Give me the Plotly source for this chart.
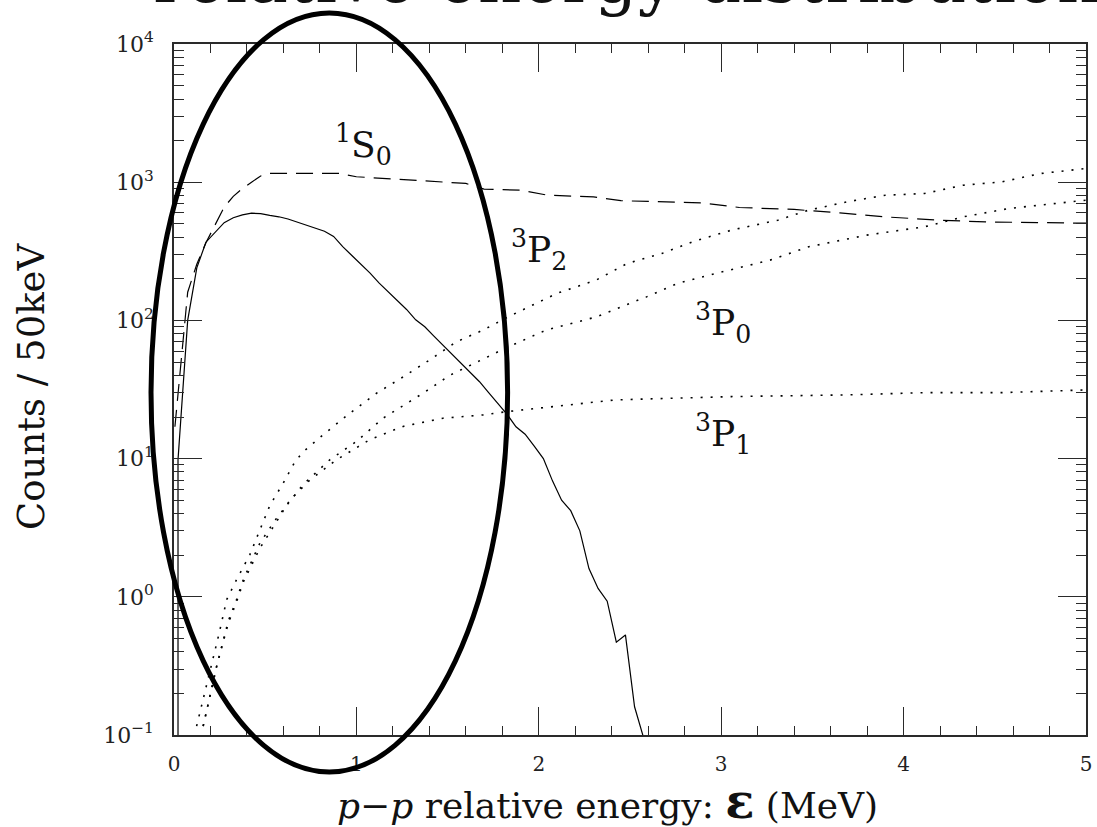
import plotly.graph_objects as go

# ---------------- data: counts per 50 keV bin vs p-p relative energy (MeV) ----------------
# 1S0, full curve (solid)
e_s0_solid = [0.022, 0.022, 0.075, 0.125, 0.175, 0.225, 0.275, 0.325, 0.375, 0.425,
              0.475, 0.525, 0.575, 0.625, 0.675, 0.725, 0.775, 0.825, 0.875, 0.925,
              0.975, 1.025, 1.075, 1.125, 1.175, 1.225, 1.275, 1.325, 1.375, 1.425,
              1.475, 1.525, 1.575, 1.625, 1.675, 1.725, 1.775, 1.825, 1.875, 1.925,
              1.975, 2.025, 2.075, 2.125, 2.175, 2.225, 2.275, 2.325, 2.375, 2.425,
              2.475, 2.525, 2.575]
n_s0_solid = [0.01, 9.8, 100, 240, 368, 437, 510, 553, 580, 597,
              592, 575, 562, 542, 515, 490, 465, 442, 405, 342,
              295, 255, 220, 186, 161, 140, 120, 101, 90, 77,
              66, 57, 49, 42, 36, 30, 25, 21, 17, 15,
              12.3, 10, 6.9, 5.0, 4.2, 3.0, 1.6, 1.15, 0.93, 0.47,
              0.53, 0.16, 0.095]

# 1S0, dashed curve
e_s0_dashed = [0.005, 0.075, 0.125, 0.175, 0.225, 0.275, 0.325, 0.375, 0.425, 0.475,
               0.525, 0.9, 1.0, 1.6, 1.7, 1.9, 2.05, 2.3, 2.45, 2.9,
               3.1, 3.4, 3.65, 3.9, 4.2, 4.45, 5.0]
n_s0_dashed = [17, 160, 255, 365, 490, 660, 790, 900, 1000, 1110,
               1160, 1160, 1095, 980, 890, 875, 805, 783, 735, 708,
               656, 635, 600, 561, 531, 516, 505]

# 3P2 (dotted, upper)
e_p2 = [0.124, 0.16, 0.206, 0.248, 0.289, 0.343, 0.416, 0.471, 0.526, 0.599,
        0.663, 0.708, 0.818, 0.964, 1.11, 1.256, 1.402, 1.548, 1.694, 1.825,
        2.10, 2.315, 2.484, 2.675, 2.844, 3.056, 3.31, 3.48, 3.69, 3.9,
        4.115, 4.326, 4.538, 4.75, 5.0]
n_p2 = [0.116, 0.18, 0.315, 0.548, 0.955, 1.33, 2.02, 3.06, 4.6, 6.65,
        9.5, 11.2, 14.9, 21.3, 29.7, 39, 51.8, 70, 85, 105,
        157, 196, 258, 305, 371, 450, 531, 628, 721, 805,
        828, 951, 1005, 1155, 1256]

# 3P0 (dotted, middle)
e_p0 = [0.16, 0.234, 0.297, 0.343, 0.38, 0.426, 0.471, 0.562, 0.708, 0.854,
        1.0, 1.146, 1.365, 1.511, 1.731, 1.828, 2.04, 2.315, 2.59, 2.76,
        2.972, 3.268, 3.48, 3.797, 4.115, 4.326, 4.58, 4.75, 5.0]
n_p0 = [0.116, 0.315, 0.665, 0.955, 1.33, 1.8, 2.45, 3.7, 6.5, 9.8,
        13.3, 19.6, 29.7, 40, 55, 64, 85, 106, 148, 185,
        219, 273, 341, 414, 476, 561, 646, 683, 741]

# 3P1 (dotted, lower)
e_p1 = [0.16, 0.234, 0.297, 0.343, 0.38, 0.426, 0.471, 0.544, 0.635, 0.745,
        0.891, 1.073, 1.256, 1.475, 1.694, 1.828, 2.42, 3.056, 3.691, 4.115,
        4.538, 5.0]
n_p1 = [0.116, 0.315, 0.64, 0.92, 1.28, 1.7, 2.25, 3.2, 5.0, 7.0,
        9.8, 13.7, 17.1, 19.6, 20.7, 21.9, 26.6, 28.1, 28.9, 30,
        30, 31.4]

# axis ticks
x_major = [0, 1, 2, 3, 4, 5]
y_major = [0.1, 1, 10, 100, 1000, 10000]
y_major_text = ["10<sup>\u22121</sup>", "10<sup>0</sup>", "10<sup>1</sup>",
                "10<sup>2</sup>", "10<sup>3</sup>", "10<sup>4</sup>"]

# ---------------- styling ----------------
SERIF = "DejaVu Serif"
AXIS_COLOR = "#2a2a2a"
X_RANGE = [0, 5]

fig = go.Figure()

fig.add_trace(go.Scatter(x=e_s0_solid, y=n_s0_solid, mode="lines",
                         line=dict(color="black", width=1.2)))
fig.add_trace(go.Scatter(x=e_s0_dashed, y=n_s0_dashed, mode="lines",
                         line=dict(color="black", width=1.2, dash="17px,9px")))
for ex, ny in ((e_p2, n_p2), (e_p0, n_p0), (e_p1, n_p1)):
    fig.add_trace(go.Scatter(x=ex, y=ny, mode="lines",
                             line=dict(color="black", width=1.6, dash="2px,8px")))

y_minor = [m * 10 ** k for k in range(-1, 4) for m in range(2, 10)]

fig.update_xaxes(
    range=X_RANGE, tickmode="array", tickvals=x_major, automargin=False,
    showline=True, linecolor=AXIS_COLOR, linewidth=1.5, mirror="allticks",
    ticks="inside", ticklen=28, tickwidth=1.3, tickcolor=AXIS_COLOR,
    showgrid=False, zeroline=False, ticklabelstandoff=10,
    tickfont=dict(family=SERIF, size=20, color="#222"),
    minor=dict(dtick=0.2, tick0=0, ticks="inside", ticklen=9, tickwidth=1.3,
               tickcolor=AXIS_COLOR, showgrid=False),
)
fig.update_yaxes(
    type="log", range=[-1, 4], tickmode="array", tickvals=y_major, ticktext=y_major_text,
    automargin=False,
    showline=True, linecolor=AXIS_COLOR, linewidth=1.5, mirror="allticks",
    ticks="inside", ticklen=28, tickwidth=1.3, tickcolor=AXIS_COLOR,
    showgrid=False, zeroline=False, ticklabelstandoff=14,
    tickfont=dict(family=SERIF, size=22, color="#222"),
    minor=dict(tickmode="array", tickvals=y_minor, ticks="inside", ticklen=10,
               tickwidth=1.3, tickcolor=AXIS_COLOR, showgrid=False),
)

L, R, T, B = 174, 11, 44, 92
W, H = 1097, 827
pw, ph = W - L - R, H - T - B


def px_to_paper(px, py):
    return (px - L) / pw, (H - B - py) / ph


def e_to_paper(e):
    return (e - X_RANGE[0]) / (X_RANGE[1] - X_RANGE[0])


annotations = []

# partial wave labels (x in MeV, y in log10 counts)
for txt, ex, ly in (("<sup>1</sup>S<sub>0</sub>", 1.04, 3.27),
                    ("<sup>3</sup>P<sub>2</sub>", 2.0, 2.51),
                    ("<sup>3</sup>P<sub>0</sub>", 3.01, 1.98),
                    ("<sup>3</sup>P<sub>1</sub>", 3.01, 1.18)):
    annotations.append(dict(text=txt, x=ex, y=ly, xref="x", yref="y", showarrow=False,
                            font=dict(family=SERIF, size=36, color="#111"),
                            xanchor="center", yanchor="middle"))

# axis titles
tx, ty = px_to_paper(607, 801)
annotations.append(dict(
    text="<i>p</i>\u2212<i>p</i> relative energy: <b><span style='font-size:48px'>\u03b5</span></b> (MeV)",
    x=tx, y=ty, xref="paper", yref="paper", showarrow=False,
    font=dict(family=SERIF, size=36, color="#111"), xanchor="center", yanchor="middle"))
tx, ty = px_to_paper(31, 387)
annotations.append(dict(
    text="Counts / 50keV", x=tx, y=ty, xref="paper", yref="paper", showarrow=False,
    textangle=-90, font=dict(family=SERIF, size=37, color="#111"),
    xanchor="center", yanchor="middle"))

# heading, mostly above the page edge
tx, ty = px_to_paper(627, 20)
annotations.append(dict(
    text="relative energy distribution", x=tx, y=ty, xref="paper", yref="paper",
    showarrow=False, font=dict(family=SERIF, size=68, color="#111"),
    xanchor="center", yanchor="bottom"))

# ellipse highlighting the low-energy region
ell_e0, ell_e1 = -0.126, 1.829
_, ell_y0 = px_to_paper(0, 772)
_, ell_y1 = px_to_paper(0, 13)
shapes = [dict(type="circle", xref="paper", yref="paper",
               x0=e_to_paper(ell_e0), x1=e_to_paper(ell_e1), y0=ell_y0, y1=ell_y1,
               line=dict(color="black", width=5), layer="above")]

fig.update_layout(
    width=W, height=H, margin=dict(l=L, r=R, t=T, b=B, autoexpand=False),
    plot_bgcolor="white", paper_bgcolor="white", showlegend=False,
    annotations=annotations, shapes=shapes,
)

fig.write_html("out.html")
